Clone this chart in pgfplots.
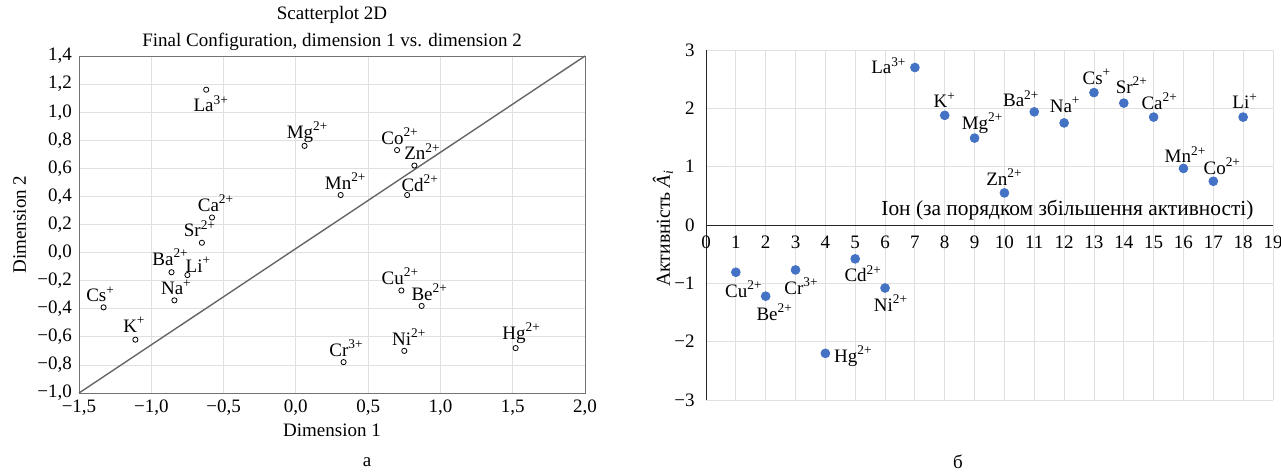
\documentclass[border=0pt]{standalone}
\usepackage{pgfplots}
\pgfplotsset{compat=1.18}
\usepackage{pgfplotstable}
\usepackage{fontspec}
\setmainfont{Liberation Serif}
\definecolor{ptblue}{RGB}{68,114,196}

% MDS configuration (left)
\pgfplotstableread{
x y lab dx dy
-0.62 1.16 {La\textsuperscript{3+}} 2.5 -7
0.06 0.76 {Mg\textsuperscript{2+}} 1.5 7
0.70 0.73 {Co\textsuperscript{2+}} 1.5 7
0.82 0.62 {Zn\textsuperscript{2+}} 4 7
0.31 0.41 {Mn\textsuperscript{2+}} 2.5 7
0.77 0.41 {Cd\textsuperscript{2+}} 6.5 6
-0.58 0.25 {Ca\textsuperscript{2+}} 2 7
-0.65 0.07 {Sr\textsuperscript{2+}} -1 7
-0.86 -0.14 {Ba\textsuperscript{2+}} -0.5 7.5
-0.75 -0.16 {Li\textsuperscript{+}} 5.5 5
-0.84 -0.34 {Na\textsuperscript{+}} 1 6.5
-1.33 -0.39 {Cs\textsuperscript{+}} -1.5 6.5
-1.11 -0.62 {K\textsuperscript{+}} -0.5 7.5
0.73 -0.27 {Cu\textsuperscript{2+}} -0.5 7
0.87 -0.38 {Be\textsuperscript{2+}} 4 7
0.75 -0.70 {Ni\textsuperscript{2+}} 2.5 7
0.33 -0.78 {Cr\textsuperscript{3+}} 1.5 7
1.52 -0.68 {Hg\textsuperscript{2+}} 3 7.5
}\dimdata

% activity by ion (right)
\pgfplotstableread{
x y lab dx dy
1 -0.81 {Cu\textsuperscript{2+}} 4 -8.5
2 -1.22 {Be\textsuperscript{2+}} 4.5 -8
3 -0.77 {Cr\textsuperscript{3+}} 3 -8
4 -2.20 {Hg\textsuperscript{2+}} 14 -1.5
5 -0.58 {Cd\textsuperscript{2+}} 4 -7.5
6 -1.08 {Ni\textsuperscript{2+}} 3 -7.5
7 2.70 {La\textsuperscript{3+}} -13 1
8 1.88 {K\textsuperscript{+}} 0 7.5
9 1.49 {Mg\textsuperscript{2+}} 4 7.5
10 0.55 {Zn\textsuperscript{2+}} 0 8
11 1.94 {Ba\textsuperscript{2+}} -6.5 6.5
12 1.75 {Na\textsuperscript{+}} 0.5 9
13 2.27 {Cs\textsuperscript{+}} 1.5 8
14 2.09 {Sr\textsuperscript{2+}} 4 9
15 1.85 {Ca\textsuperscript{2+}} 3 8
16 0.97 {Mn\textsuperscript{2+}} 1 7
17 0.75 {Co\textsuperscript{2+}} 4.5 7.5
18 1.85 {Li\textsuperscript{+}} 1 8
}\actdata

\pgfplotsset{
  labelled/.style={
    nodes near coords, point meta=explicit symbolic,
    visualization depends on={\thisrow{dx} \as \dx},
    visualization depends on={\thisrow{dy} \as \dy},
    every node near coord/.append style={anchor=center, xshift=\dx pt, yshift=\dy pt, text=black},
  },
}

\begin{document}
\begin{tikzpicture}[font=\fontsize{9.5}{13.5}\selectfont]
\useasboundingbox (0,0) rectangle (640.5pt,-236pt);

\begin{axis}[
  at={(39.5pt,-196.5pt)}, anchor=south west,
  scale only axis, width=253pt, height=168.5pt,
  xmin=-1.5, xmax=2, ymin=-1, ymax=1.4,
  xtick={-1.5,-1,-0.5,0,0.5,1,1.5,2},
  xticklabels={{−1,5},{−1,0},{−0,5},{0,0},{0,5},{1,0},{1,5},{2,0}},
  ytick={-1,-0.8,-0.6,-0.4,-0.2,0,0.2,0.4,0.6,0.8,1,1.2,1.4},
  yticklabels={{−1,0},{−0,8},{−0,6},{−0,4},{−0,2},{0,0},{0,2},{0,4},{0,6},{0,8},{1,0},{1,2},{1,4}},
  grid=major, grid style={black!12},
  axis line style={black!55},
  tick style={draw=none},
  title={Scatterplot 2D\\Final Configuration, dimension 1 vs. dimension 2},
  title style={align=center, at={(axis description cs:0.5,1)}, anchor=south, yshift=-7pt},
  xlabel={Dimension 1},
  xlabel style={at={(axis description cs:0.5,0)}, anchor=center, yshift=-18.5pt},
  ylabel={Dimension 2},
  ylabel style={at={(axis description cs:-0.117,0.5)}, anchor=center},
  clip=false,
]
\addplot[black!60, line width=0.7pt] coordinates {(-1.5,-1) (2,1.4)};
\addplot[only marks, mark=o, mark size=1.3pt, black, labelled] table[meta=lab] {\dimdata};
\end{axis}

\begin{axis}[
  at={(353pt,-200pt)}, anchor=south west,
  scale only axis, width=283.5pt, height=175pt,
  xmin=0, xmax=19, ymin=-3, ymax=3,
  axis x line=middle, axis y line=left,
  axis line style={-, black!85},
  xtick={0,1,...,19}, ytick={-3,-2,-1,0,1,2,3},
  yticklabels={−3,−2,−1,0,1,2,3},
  hide obscured x ticks=false, hide obscured y ticks=false,
  /pgf/number format/assume math mode=true,
  grid=major, grid style={black!12},
  tick style={draw=none},
  xlabel={Іон (за порядком збільшення активності)},
  xlabel style={at={(axis description cs:0.978,0.526)}, anchor=base east, font=\fontsize{10.7}{12}\selectfont},
  ylabel={Активність \textit{Â}\textsubscript{\textit{i}}},
  ylabel style={at={(axis description cs:-0.076,0.49)}, anchor=center, font=\fontsize{9.9}{12}\selectfont},
  clip=false,
]
\addplot[only marks, mark=*, mark size=2.2pt, ptblue, labelled] table[meta=lab] {\actdata};
\end{axis}

\node at (183.5pt,-231pt) {а};
\node at (479pt,-231pt) {б};
\end{tikzpicture}
\end{document}
